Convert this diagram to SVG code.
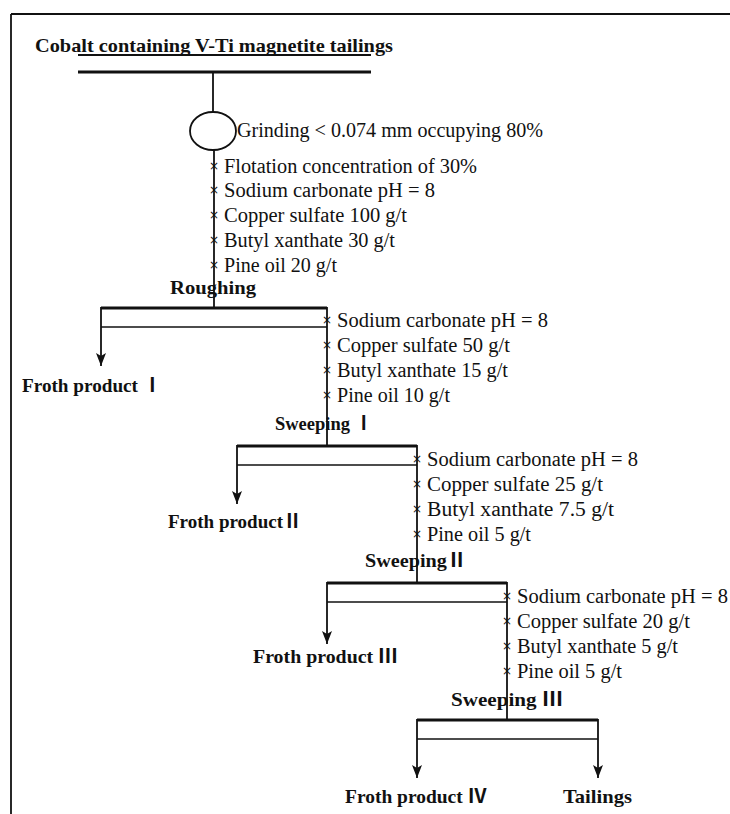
<svg xmlns="http://www.w3.org/2000/svg" width="730" height="814" viewBox="0 0 730 814">
<style>
.t{font-family:"Liberation Serif","Noto Sans CJK SC",serif;font-size:20px;fill:#111}
.b{font-family:"Liberation Serif","Noto Sans CJK SC",serif;font-size:19.5px;font-weight:bold;fill:#111}
.x{font-family:"DejaVu Sans",sans-serif;font-size:12px;fill:#111;text-anchor:middle}
.ln{stroke:#111;stroke-width:1.8;fill:none}
.thin{stroke:#111;stroke-width:1.5;fill:none}
.thick{stroke:#111;stroke-width:3.2;fill:none}
</style>
<defs>
<marker id="ah" viewBox="-1 -6 15 12" refX="13" refY="0" markerWidth="15" markerHeight="12" markerUnits="userSpaceOnUse" orient="auto">
<path d="M0,-5 L13,0 L0,5 L3,0 z" fill="#111"/>
</marker>
</defs>
<rect width="730" height="814" fill="#fff"/>
<g id="frame">
<line x1="11" y1="14" x2="730" y2="14" class="ln" stroke-width="2.2"/>
<line x1="11" y1="14" x2="11" y2="814" class="ln" stroke-width="2.2"/>
</g>
<g id="feed">
<text x="35" y="52" class="b" textLength="358" lengthAdjust="spacingAndGlyphs">Cobalt containing V-Ti magnetite tailings</text>
<line x1="78" y1="55" x2="371" y2="55" class="ln" stroke-width="2.2"/>
<line x1="78" y1="72" x2="371" y2="72" class="thick"/>
</g>
<g id="grinding">
<ellipse cx="213" cy="131" rx="23" ry="19" class="ln" stroke-width="2"/>
<text x="237" y="137" class="t" textLength="306" lengthAdjust="spacingAndGlyphs">Grinding &lt; 0.074 mm occupying 80%</text>
</g>
<g id="reagents-roughing">
<text x="214" y="170" class="x">×</text>
<text x="224" y="173" class="t" textLength="253" lengthAdjust="spacingAndGlyphs">Flotation concentration of 30%</text>
<text x="214" y="194" class="x">×</text>
<text x="224" y="197" class="t" textLength="211" lengthAdjust="spacingAndGlyphs">Sodium carbonate pH = 8</text>
<text x="214" y="219" class="x">×</text>
<text x="224" y="222" class="t" textLength="183" lengthAdjust="spacingAndGlyphs">Copper sulfate 100 g/t</text>
<text x="214" y="244" class="x">×</text>
<text x="224" y="247" class="t" textLength="171" lengthAdjust="spacingAndGlyphs">Butyl xanthate 30 g/t</text>
<text x="214" y="269" class="x">×</text>
<text x="224" y="272" class="t" textLength="113" lengthAdjust="spacingAndGlyphs">Pine oil 20 g/t</text>
</g>
<g id="roughing">
<text x="170" y="294" class="b" textLength="86" lengthAdjust="spacingAndGlyphs">Roughing</text>
<line x1="101" y1="308" x2="327" y2="308" class="thick"/>
<line x1="101" y1="327" x2="327" y2="327" class="thin"/>
</g>
<g id="reagents-sweeping1">
<text x="327" y="324" class="x">×</text>
<text x="337" y="327" class="t" textLength="211" lengthAdjust="spacingAndGlyphs">Sodium carbonate pH = 8</text>
<text x="327" y="349" class="x">×</text>
<text x="337" y="352" class="t" textLength="173" lengthAdjust="spacingAndGlyphs">Copper sulfate 50 g/t</text>
<text x="327" y="374" class="x">×</text>
<text x="337" y="377" class="t" textLength="171" lengthAdjust="spacingAndGlyphs">Butyl xanthate 15 g/t</text>
<text x="327" y="399" class="x">×</text>
<text x="337" y="402" class="t" textLength="113" lengthAdjust="spacingAndGlyphs">Pine oil 10 g/t</text>
</g>
<g id="froth1">
<text x="22" y="392" class="b" textLength="140" lengthAdjust="spacingAndGlyphs">Froth product Ⅰ</text>
</g>
<g id="sweeping1">
<text x="275" y="430" class="b" textLength="98" lengthAdjust="spacingAndGlyphs">Sweeping Ⅰ</text>
<line x1="237" y1="446" x2="417" y2="446" class="thick"/>
<line x1="237" y1="465" x2="417" y2="465" class="thin"/>
</g>
<g id="reagents-sweeping2">
<text x="417" y="463" class="x">×</text>
<text x="427" y="466" class="t" textLength="211" lengthAdjust="spacingAndGlyphs">Sodium carbonate pH = 8</text>
<text x="417" y="488" class="x">×</text>
<text x="427" y="491" class="t" textLength="176" lengthAdjust="spacingAndGlyphs">Copper sulfate 25 g/t</text>
<text x="417" y="513" class="x">×</text>
<text x="427" y="516" class="t" textLength="187" lengthAdjust="spacingAndGlyphs">Butyl xanthate 7.5 g/t</text>
<text x="417" y="538" class="x">×</text>
<text x="427" y="541" class="t" textLength="104" lengthAdjust="spacingAndGlyphs">Pine oil 5 g/t</text>
</g>
<g id="froth2">
<text x="168" y="528" class="b" textLength="134" lengthAdjust="spacingAndGlyphs">Froth productⅡ</text>
</g>
<g id="sweeping2">
<text x="365" y="567" class="b" textLength="102" lengthAdjust="spacingAndGlyphs">SweepingⅡ</text>
<line x1="327" y1="583" x2="507" y2="583" class="thick"/>
<line x1="327" y1="602" x2="507" y2="602" class="thin"/>
</g>
<g id="reagents-sweeping3">
<text x="507" y="600" class="x">×</text>
<text x="517" y="603" class="t" textLength="211" lengthAdjust="spacingAndGlyphs">Sodium carbonate pH = 8</text>
<text x="507" y="625" class="x">×</text>
<text x="517" y="628" class="t" textLength="173" lengthAdjust="spacingAndGlyphs">Copper sulfate 20 g/t</text>
<text x="507" y="650" class="x">×</text>
<text x="517" y="653" class="t" textLength="161" lengthAdjust="spacingAndGlyphs">Butyl xanthate 5 g/t</text>
<text x="507" y="675" class="x">×</text>
<text x="517" y="678" class="t" textLength="105" lengthAdjust="spacingAndGlyphs">Pine oil 5 g/t</text>
</g>
<g id="froth3">
<text x="253" y="663" class="b" textLength="145" lengthAdjust="spacingAndGlyphs">Froth product  Ⅲ</text>
</g>
<g id="sweeping3">
<text x="451" y="706" class="b" textLength="112" lengthAdjust="spacingAndGlyphs">Sweeping  Ⅲ</text>
<line x1="417" y1="720" x2="598" y2="720" class="thick"/>
<line x1="417" y1="739" x2="598" y2="739" class="thin"/>
</g>
<g id="froth4">
<text x="345" y="803" class="b" textLength="142" lengthAdjust="spacingAndGlyphs">Froth product  Ⅳ</text>
</g>
<g id="tailings">
<text x="563" y="803" class="b" textLength="69" lengthAdjust="spacingAndGlyphs">Tailings</text>
</g>
<g id="connectors">
<line x1="213" y1="72" x2="213" y2="112" class="ln"/>
<line x1="214" y1="150" x2="214" y2="308" class="ln"/>
<line x1="101" y1="307" x2="101" y2="366" class="ln" marker-end="url(#ah)"/>
<line x1="327" y1="307" x2="327" y2="446" class="ln"/>
<line x1="237" y1="445" x2="237" y2="504" class="ln" marker-end="url(#ah)"/>
<line x1="417" y1="445" x2="417" y2="583" class="ln"/>
<line x1="327" y1="582" x2="327" y2="644" class="ln" marker-end="url(#ah)"/>
<line x1="507" y1="582" x2="507" y2="720" class="ln"/>
<line x1="417" y1="719" x2="417" y2="778" class="ln" marker-end="url(#ah)"/>
<line x1="598" y1="719" x2="598" y2="778" class="ln" marker-end="url(#ah)"/>
</g>
</svg>
